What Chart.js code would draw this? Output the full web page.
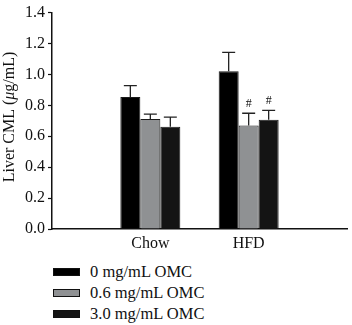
<!DOCTYPE html>
<html>
<head>
<meta charset="utf-8">
<script src="https://cdn.jsdelivr.net/npm/chart.js@4/dist/chart.umd.min.js"></script>
<style>
  html, body { margin: 0; padding: 0; background: #fff; }
  #wrap { position: relative; width: 352px; height: 256px; }
  #legend { margin: 5px 0 0 53px; font-family: "Liberation Serif", serif; font-size: 16.5px; color: #111; }
  #legend div { height: 21px; display: flex; align-items: center; }
  #legend span.box { display: inline-block; width: 25px; height: 6px; margin-right: 10px; border: 1px solid #111; }
</style>
</head>
<body>
<div id="wrap"><canvas id="chart"></canvas></div>
<div id="legend"></div>
<script>
const groups = ['', 'Chow', 'HFD', ''];
const seriesNames = ['0 mg/mL OMC', '0.6 mg/mL OMC', '3.0 mg/mL OMC'];
const seriesColors = ['#000000', '#8f9193', '#141414'];
const means = [
  [null, 0.854, 1.021, null],
  [null, 0.711, 0.670, null],
  [null, 0.661, 0.707, null]
];
const errTops = [
  [null, 0.927, 1.143, null],
  [null, 0.743, 0.749, null],
  [null, 0.724, 0.768, null]
];
const marks = [
  [null, '', '', null],
  [null, '', '#', null],
  [null, '', '#', null]
];

const serif = '"Liberation Serif", "DejaVu Serif", serif';

// barres d'erreur + dièses
const errorBarPlugin = {
  id: 'errorBars',
  afterDatasetsDraw(chart) {
    const ctx = chart.ctx;
    const y = chart.scales.y;
    chart.data.datasets.forEach((ds, di) => {
      const meta = chart.getDatasetMeta(di);
      meta.data.forEach((bar, i) => {
        const top = errTops[di][i];
        if (top == null) return;
        const yTop = y.getPixelForValue(top);
        const yMean = y.getPixelForValue(means[di][i]);
        ctx.save();
        ctx.strokeStyle = '#222';
        ctx.lineWidth = 1.3;
        ctx.beginPath();
        ctx.moveTo(bar.x, yMean);
        ctx.lineTo(bar.x, yTop);
        ctx.moveTo(bar.x - 6.5, yTop);
        ctx.lineTo(bar.x + 6.5, yTop);
        ctx.stroke();
        if (marks[di][i]) {
          ctx.fillStyle = '#111';
          ctx.font = '12px ' + serif;
          ctx.textAlign = 'center';
          ctx.textBaseline = 'bottom';
          ctx.fillText(marks[di][i], bar.x, yTop - 3);
        }
        ctx.restore();
      });
    });
  }
};

// titre de l'axe y avec mu en italique
const yTitlePlugin = {
  id: 'yTitle',
  afterDraw(chart) {
    const ctx = chart.ctx;
    const area = chart.chartArea;
    const parts = [['Liver CML (', 'normal'], ['\u03bc', 'italic'], ['g/mL)', 'normal']];
    ctx.save();
    let total = 0;
    parts.forEach(p => { ctx.font = p[1] + ' 16px ' + serif; total += ctx.measureText(p[0]).width; });
    ctx.translate(10, 117);
    ctx.rotate(-Math.PI / 2);
    ctx.fillStyle = '#111';
    ctx.textBaseline = 'middle';
    let x = -total / 2;
    parts.forEach(p => {
      ctx.font = p[1] + ' 16px ' + serif;
      ctx.fillText(p[0], x, 0);
      x += ctx.measureText(p[0]).width;
    });
    ctx.restore();
  }
};

new Chart(document.getElementById('chart'), {
  type: 'bar',
  data: {
    labels: groups,
    datasets: seriesNames.map((name, i) => ({
      label: name,
      data: means[i],
      backgroundColor: seriesColors[i],
      borderColor: '#1a1a1a',
      borderWidth: 1,
      categoryPercentage: 0.61,
      barPercentage: 1
    }))
  },
  options: {
    responsive: true,
    maintainAspectRatio: false,
    animation: false,
    layout: { padding: { top: 6, right: 0, left: 0, bottom: 0 } },
    plugins: { legend: { display: false }, tooltip: { enabled: false } },
    scales: {
      x: {
        offset: false,
        grid: { display: false, drawTicks: false },
        border: { color: '#111', width: 1.5 },
        ticks: { color: '#111', font: { family: serif, size: 16 }, padding: 5, maxRotation: 0, autoSkip: false },
        afterFit(scale) { scale.height = 27; }
      },
      y: {
        min: 0,
        max: 1.4,
        grid: { drawOnChartArea: false, tickLength: 4, color: '#111', tickWidth: 1.2 },
        border: { color: '#111', width: 1.5 },
        ticks: {
          stepSize: 0.2,
          color: '#111',
          font: { family: serif, size: 16 },
          padding: 3,
          callback: v => v.toFixed(1)
        },
        afterFit(scale) { scale.width = 52; }
      }
    }
  },
  plugins: [errorBarPlugin, yTitlePlugin]
});

const legend = document.getElementById('legend');
seriesNames.forEach((name, i) => {
  const row = document.createElement('div');
  row.innerHTML = `<span class="box" style="background:${seriesColors[i]}"></span>${name}`;
  legend.appendChild(row);
});
</script>
</body>
</html>
